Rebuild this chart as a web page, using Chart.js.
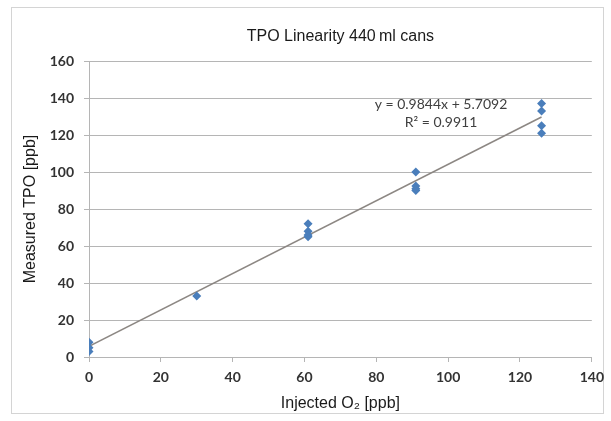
<!DOCTYPE html>
<html>
<head>
<meta charset="utf-8">
<script src="https://cdn.jsdelivr.net/npm/chart.js@4.4.1/dist/chart.umd.min.js"></script>
<style>
  html, body { margin: 0; padding: 0; background: #fff; }
  #wrap { width: 611px; height: 421px; }
</style>
</head>
<body>
<div id="wrap"><canvas id="chart" width="611" height="421"></canvas></div>
<script>
const injectedO2  = [0, 0, 0, 30, 61, 61, 61, 61, 91, 91, 91, 91, 126, 126, 126, 126];
const measuredTPO = [8, 5, 3, 33, 72, 68, 66, 65, 100, 92.5, 91, 90, 137, 133, 125, 121];

// linear trendline as printed on the chart
const trendSlope = 0.9844;
const trendIntercept = 5.7092;
const trendText = ["y = 0.9844x + 5.7092", "R\u00b2 = 0.9911"];
const chartTitle = "TPO Linearity 440\u2009ml cans";

const xTicks = [0, 20, 40, 60, 80, 100, 120, 140];
const yTicks = [0, 20, 40, 60, 80, 100, 120, 140, 160];

const gridColor = "#b5b5b5";
const tickFont = { family: "Lato", size: 14, weight: "bold" };
const titleFont = { family: "Liberation Sans", size: 16, weight: "normal" };

const points = injectedO2.map((x, i) => ({ x: x, y: measuredTPO[i] }));
const xMin = Math.min(...injectedO2);
const xMax = Math.max(...injectedO2);
const trend = [
    { x: xMin, y: trendSlope * xMin + trendIntercept },
    { x: xMax, y: trendSlope * xMax + trendIntercept }
];

// light frame around the whole chart + title centred over the plot area
const framePlugin = {
    id: "frame",
    beforeDraw(chart) {
        const ctx = chart.ctx;
        ctx.save();
        ctx.fillStyle = "#fff";
        ctx.fillRect(0, 0, chart.width, chart.height);
        ctx.strokeStyle = "#d4d4d4";
        ctx.lineWidth = 1;
        ctx.strokeRect(11.5, 7.5, 592, 406);
        ctx.restore();
    },
    afterDraw(chart) {
        const ctx = chart.ctx;
        const area = chart.chartArea;
        ctx.save();
        ctx.font = "16px 'Liberation Sans'";
        ctx.fillStyle = "#1a1a1a";
        ctx.textAlign = "center";
        ctx.textBaseline = "middle";
        ctx.fillText(chartTitle, (area.left + area.right) / 2, 37);
        ctx.restore();
    }
};

// trendline equation label
const equationPlugin = {
    id: "equation",
    afterDatasetsDraw(chart) {
        const ctx = chart.ctx;
        const xs = chart.scales.x, ys = chart.scales.y;
        const cx = xs.getPixelForValue(98);
        ctx.save();
        ctx.font = "14px Lato";
        ctx.fillStyle = "#404040";
        ctx.textAlign = "center";
        ctx.textBaseline = "middle";
        ctx.fillText(trendText[0], cx, ys.getPixelForValue(136.5));
        ctx.fillText(trendText[1], cx, ys.getPixelForValue(127));
        ctx.restore();
    }
};

new Chart(document.getElementById("chart"), {
    type: "scatter",
    data: {
        datasets: [
            {
                label: "Trend",
                type: "line",
                data: trend,
                borderColor: "#8c8783",
                borderWidth: 1.5,
                pointRadius: 0,
                fill: false,
                order: 1
            },
            {
                label: "Measured",
                data: points,
                pointStyle: "rectRot",
                pointRadius: 4.5,
                backgroundColor: "#4a7ebb",
                borderColor: "#4a7ebb",
                borderWidth: 0,
                order: 0
            }
        ]
    },
    options: {
        responsive: false,
        animation: false,
        layout: { padding: { left: 14, right: 15, top: 61, bottom: 8 } },
        plugins: {
            legend: { display: false },
            tooltip: { enabled: false },
            title: { display: false }
        },
        scales: {
            x: {
                type: "linear",
                min: xTicks[0],
                max: xTicks[xTicks.length - 1],
                afterBuildTicks: s => { s.ticks = xTicks.map(v => ({ value: v })); },
                ticks: { padding: 7, font: tickFont, color: "#333" },
                grid: { drawOnChartArea: false, tickLength: 5, color: gridColor },
                border: { color: gridColor },
                title: {
                    display: true,
                    text: "Injected O\u2082 [ppb]",
                    font: titleFont,
                    color: "#1a1a1a",
                    padding: 0
                },
                afterFit: s => { s.height = 56; }
            },
            y: {
                min: yTicks[0],
                max: yTicks[yTicks.length - 1],
                afterBuildTicks: s => { s.ticks = yTicks.map(v => ({ value: v })); },
                ticks: { padding: 10, font: tickFont, color: "#333" },
                grid: { tickLength: 5, color: gridColor },
                border: { color: gridColor },
                title: {
                    display: true,
                    text: "Measured TPO [ppb]",
                    font: titleFont,
                    color: "#1a1a1a",
                    padding: { top: 7, bottom: 0 }
                },
                afterFit: s => { s.width = 75; }
            }
        }
    },
    plugins: [framePlugin, equationPlugin]
});
</script>
</body>
</html>
